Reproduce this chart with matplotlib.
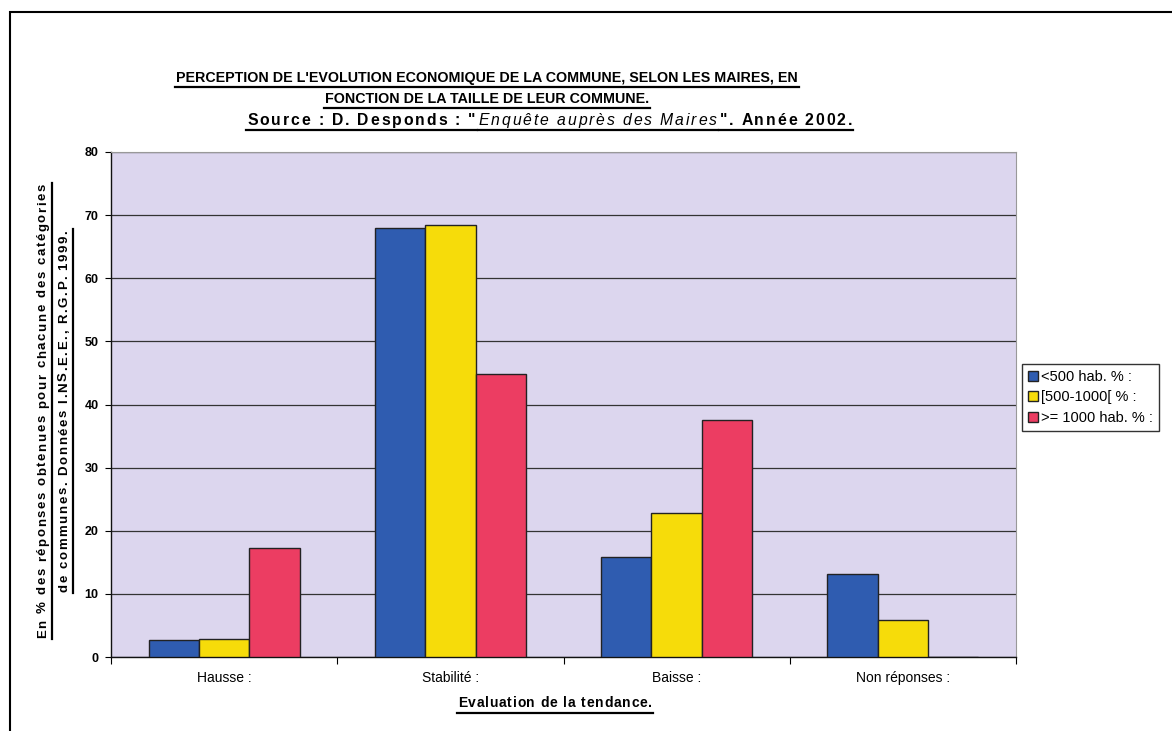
import matplotlib
matplotlib.use("Agg")
import matplotlib.pyplot as plt
import numpy as np
from matplotlib.lines import Line2D
from matplotlib.patches import Rectangle

# -----------------------------
# data
# -----------------------------
categories = ["Hausse :", "Stabilité :", "Baisse :", "Non réponses :"]
series_names = ["<500 hab. % :", "[500-1000[ % :", ">= 1000 hab. % :"]
small = [2.7, 68.0, 15.8, 13.1]
medium = [2.9, 68.4, 22.8, 5.8]
large = [17.3, 44.9, 37.6, 0.0]
colors = ["#2f5cb0", "#f6dc0a", "#ec3d62"]
yticks = [0, 10, 20, 30, 40, 50, 60, 70, 80]

plt.rcParams["font.family"] = ["Liberation Sans", "DejaVu Sans"]

W, H = 1172, 731
fig = plt.figure(figsize=(W / 100, H / 100), dpi=100)
fig.patch.set_facecolor("white")

ax = fig.add_axes([111 / W, 1 - 657 / H, (1016 - 111) / W, (657 - 152) / H])
ax.set_facecolor("#dcd6ee")

x = np.arange(len(categories))
bw = 1 / 4.5
for i, vals in enumerate([small, medium, large]):
    ax.bar(x + (i - 1) * bw, vals, width=bw, color=colors[i],
           edgecolor="#222222", linewidth=1.0, label=series_names[i], zorder=3)

ax.set_xlim(-0.5, len(categories) - 0.5)
ax.set_ylim(0, 80)
ax.set_yticks(yticks)
ax.set_yticklabels([str(t) for t in yticks], fontsize=9, fontweight="bold")
ax.yaxis.grid(True, color="#333333", linewidth=0.9, zorder=1)
ax.set_axisbelow(True)

# category labels sit between boundary ticks, like the Excel original
ax.set_xticks(np.arange(len(categories) + 1) - 0.5)
ax.set_xticklabels([])
ax.set_xticks(x, minor=True)
ax.set_xticklabels(categories, minor=True, fontsize=10)
ax.tick_params(axis="x", which="minor", length=0, pad=10)
ax.tick_params(axis="x", which="major", length=5, direction="out")
ax.tick_params(axis="y", length=4, direction="out", pad=5)

for s in ["left", "bottom"]:
    ax.spines[s].set_color("#111111")
    ax.spines[s].set_linewidth(1.0)
for s in ["top", "right"]:
    ax.spines[s].set_color("#999999")
    ax.spines[s].set_linewidth(0.8)

leg = fig.legend(loc="upper left", bbox_to_anchor=(1022 / W, 1 - 364 / H),
                 fontsize=10.5, frameon=True, fancybox=False, edgecolor="black",
                 handlelength=0.7, handleheight=0.7, handletextpad=0.2,
                 borderpad=0.4, labelspacing=0.45, borderaxespad=0)
leg.get_frame().set_linewidth(1.0)

# outer frame of the scanned page
fig.add_artist(Rectangle((10 / W, -0.05), 1.1, 1 - 12 / H + 0.05,
                         transform=fig.transFigure, fill=False,
                         edgecolor="black", linewidth=1.5))

fig.canvas.draw()
renderer = fig.canvas.get_renderer()


def text_w(s, **kw):
    t = fig.text(0, 0, s, **kw)
    w = t.get_window_extent(renderer).width
    t.remove()
    return w


def spaced(x0, y0, s, sp, vertical=False, **kw):
    """Draw s one character at a time with extra spacing sp (pixels),
    baseline at y0 (or at x0 when vertical). Returns start/end pixels."""
    ref = text_w("l", **kw)
    pos = y0 if vertical else x0
    for i, ch in enumerate(s):
        off = text_w(s[:i] + "l", **kw) - ref + i * sp if i else 0
        if ch == " ":
            continue
        if vertical:
            fig.text(x0 / W, (pos + off) / H, ch, rotation=90,
                     rotation_mode="anchor", ha="left", va="baseline", **kw)
        else:
            fig.text((pos + off) / W, y0 / H, ch, ha="left", va="baseline", **kw)
    total = text_w(s + "l", **kw) - ref + (len(s) - 1) * sp
    return pos, pos + total


def spaced_width(s, sp, **kw):
    return text_w(s + "l", **kw) - text_w("l", **kw) + (len(s) - 1) * sp


def hline(x0, x1, y, lw=1.6):
    fig.add_artist(Line2D([x0 / W, x1 / W], [y / H, y / H], color="black",
                          linewidth=lw, transform=fig.transFigure))


def vline(x, y0, y1, lw=1.6):
    fig.add_artist(Line2D([x / W, x / W], [y0 / H, y1 / H], color="black",
                          linewidth=lw, transform=fig.transFigure))


# -----------------------------
# titles
# -----------------------------
tkw = dict(fontsize=10.3, fontweight="bold")
line1 = "PERCEPTION DE L'EVOLUTION ECONOMIQUE DE LA COMMUNE, SELON LES MAIRES, EN"
line2 = "FONCTION DE LA TAILLE DE LEUR COMMUNE."
for txt, ytop in [(line1, 77), (line2, 98)]:
    base = H - ytop - 5
    t = fig.text(487 / W, base / H, txt, ha="center", va="baseline", **tkw)
    bb = t.get_window_extent(renderer)
    hline(bb.x0 - 1, bb.x1 + 1, base - 5)

# source line in three pieces (middle one in italics)
src_parts = [("Source : D. Desponds : \"", dict(fontsize=11.3, fontweight="bold")),
             ("Enquête auprès des Maires", dict(fontsize=11.3, fontstyle="italic")),
             ("\". Année 2002.", dict(fontsize=11.3, fontweight="bold"))]
xpos = 247
base = H - 120 - 5
sp_s = 1.9
for txt, kw in src_parts:
    a, b = spaced(xpos, base, txt, sp_s, **kw)
    hline(a - 1, b + 1, base - 5)
    xpos = b + sp_s + 1

# y axis title, two rotated lines (baseline x, centre y, underline x)
ykw = dict(fontsize=9.5, fontweight="bold")
ylines = [("En % des réponses obtenues pour chacune des catégories", 46, 411, 52),
          ("de communes. Données I.NS.E.E., R.G.P. 1999.", 67, 411, 73)]
sp_y = 1.6
for txt, xb, yc, xu in ylines:
    y0 = (H - yc) - spaced_width(txt, sp_y, **ykw) / 2
    a, b = spaced(xb, y0, txt, sp_y, vertical=True, **ykw)
    vline(xu, a - 1, b + 1)

# x axis title
xkw = dict(fontsize=10, fontweight="bold")
xt = "Evaluation de la tendance."
base = H - 703 - 4
a, b = spaced(555 - spaced_width(xt, 0.8, **xkw) / 2, base, xt, 0.8, **xkw)
hline(a - 1, b + 1, base - 6)

fig.savefig("out.png", dpi=100)
